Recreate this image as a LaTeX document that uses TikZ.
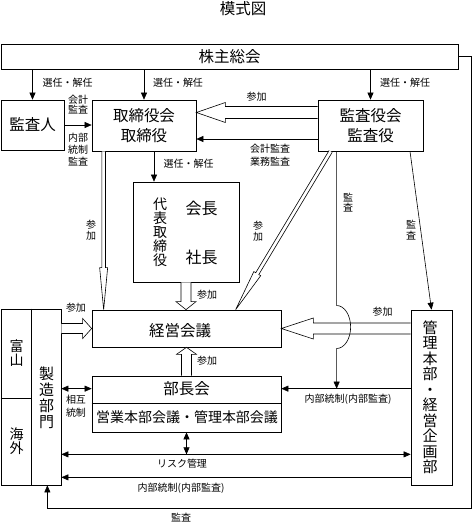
\documentclass[tikz,border=0pt]{standalone}
\usepackage{fontspec}
\setmainfont{Noto Sans CJK JP}
\usetikzlibrary{arrows.meta,calc}

\tikzset{
  box/.style={draw, line width=0.7pt, inner sep=0pt, align=center, font=\fontsize{15.5}{20}\selectfont},
  big/.style={inner sep=0pt, align=center, font=\fontsize{15.5}{20}\selectfont},
  small/.style={inner sep=0pt, align=center, font=\fontsize{10}{12}\selectfont},
  vsmall/.style={inner sep=0pt, align=center, font=\fontsize{10}{10.5}\selectfont},
  arr/.style={line width=0.6pt, -{Triangle[length=7pt,width=6pt]}},
  darr/.style={line width=0.6pt, {Triangle[length=7pt,width=6pt]}-{Triangle[length=7pt,width=6pt]}},
  fatline/.style={line width=0.6pt, fill=white},
}

% hollow arrow: from, to, half shaft, half head, head length
\newcommand{\fatarrow}[5]{%
  \coordinate (fa-s) at (#1);
  \coordinate (fa-e) at (#2);
  \coordinate (fa-n) at ($(fa-e)!#5!(fa-s)$);
  \draw[fatline] ($(fa-s)!#3!90:(fa-e)$) -- ($(fa-n)!#3!-90:(fa-s)$) -- ($(fa-n)!#4!-90:(fa-s)$)
    -- (fa-e) -- ($(fa-n)!#4!90:(fa-s)$) -- ($(fa-n)!#3!90:(fa-s)$) -- ($(fa-s)!#3!-90:(fa-e)$);
}

\begin{document}
\begin{tikzpicture}[x=1pt,y=-1pt]
\useasboundingbox (0,0) rectangle (473,523);

\node[big] (title) at (243,9) {模式図};

% boxes
\node[box, minimum width=457, minimum height=25] (kabunushi) at (229.5,56.5) {株主総会};
\node[box, minimum width=63, minimum height=50] (kansanin) at (32.5,125) {監査人};
\node[box, minimum width=104, minimum height=51] (torishimari) at (144,125.5) {取締役会\\取締役};
\node[box, minimum width=105, minimum height=51] (kansayaku) at (370.5,125.5) {監査役会\\監査役};
\node[box, minimum width=106, minimum height=100] (daihyo) at (186,232) {};
\node[big, font=\fontsize{14}{14}\selectfont] (daihyo-v) at (160,232) {代\\表\\取\\締\\役};
\node[big, font=\fontsize{16}{20}\selectfont] (kaicho) at (201.5,208) {会長};
\node[big, font=\fontsize{16}{20}\selectfont] (shacho) at (201.5,257) {社長};
\node[box, minimum width=189, minimum height=37] (keiei) at (186.5,328.5) {};
\node[big] (keiei-t) at (180,331) {経営会議};
\node[box, minimum width=189, minimum height=56] (buchou) at (186.5,404) {};
\draw[line width=0.7pt] ($(buchou.west)+(0,-1)$) -- ($(buchou.east)+(0,-1)$);
\node[big] (buchou-t) at (186.5,389) {部長会};
\node[big, font=\fontsize{14}{18}\selectfont] (kaigi-t) at (187,417) {営業本部会議・管理本部会議};
\node[box, minimum width=41, minimum height=175] (kanri) at (431.5,397.5) {};
\node[big, font=\fontsize{15}{15.5}\selectfont] (kanri-t) at (430,397.5) {管\\理\\本\\部\\・\\経\\営\\企\\画\\部};
\node[box, minimum width=60, minimum height=176] (seizo) at (31,397) {};
\draw[line width=0.7pt] ($(seizo.north west)+(31,0)$) -- ($(seizo.south west)+(31,0)$);
\draw[line width=0.7pt] ($(seizo.west)+(0,1)$) -- ($(seizo.west)+(31,1)$);
\node[big, font=\fontsize{15}{16}\selectfont] (seizo-t) at (46.5,397.5) {製\\造\\部\\門};
\node[big, font=\fontsize{14}{14}\selectfont] (toyama) at (16.5,353.5) {富\\山};
\node[big, font=\fontsize{14}{14}\selectfont] (kaigai) at (16.5,441) {海\\外};

% hollow arrows (参加)
\fatarrow{$(kansayaku.west)+(0,-13)$}{$(torishimari.east)+(0,-13)$}{6pt}{10pt}{29pt}
\fatarrow{$(torishimari.south west)+(12,0)$}{$(torishimari.south west |- keiei.north)+(12,0)$}{1.8pt}{4pt}{42pt}
\fatarrow{$(kansayaku.south west)+(13,0)$}{$(keiei.north west)+(144,0)$}{1.8pt}{4pt}{42pt}
\fatarrow{daihyo.south}{daihyo.south |- keiei.north}{5pt}{10pt}{8pt}
\fatarrow{buchou.north}{buchou.north |- keiei.south}{5pt}{10pt}{7pt}
\fatarrow{keiei.west -| seizo.east}{keiei.west}{5pt}{10pt}{9pt}
\fatarrow{keiei.east -| kanri.west}{keiei.east}{5.5pt}{10.5pt}{32pt}

% plain arrows
\draw[arr] (kansanin.north |- kabunushi.south) -- (kansanin.north);
\draw[arr] (torishimari.north |- kabunushi.south) -- (torishimari.north);
\draw[arr] (kansayaku.north |- kabunushi.south) -- (kansayaku.north);
\draw[arr] (kansanin.east) -- (kansanin.east -| torishimari.west);
\draw[arr] ($(kansayaku.west)+(0,13.5)$) -- ($(torishimari.east)+(0,13.5)$);
\draw[arr] ($(torishimari.south)+(10,0)$) -- ($(torishimari.south |- daihyo.north)+(10,0)$);
\draw[arr] ($(kansayaku.south)+(39.5,0)$) -- (kanri.north);

% audit line with hop
\coordinate (kansa) at ($(kansayaku.south west)+(19,0)$);
\coordinate (naibu1) at ($(buchou.north east)+(0,13)$);
\coordinate (hop) at ($(kansa |- keiei.east)+(0,-23)$);
\draw[arr] (kansa) -- (hop) arc[start angle=90, end angle=-90, x radius=14pt, y radius=21.5pt] -- (kansa |- naibu1);

\draw[arr] (naibu1 -| kanri.west) -- (naibu1);
\draw[darr] (naibu1 -| seizo.east) -- (naibu1 -| buchou.west);
\coordinate (risk) at ($(buchou.south)+(0,22)$);
\draw[darr] (buchou.south) -- (risk);
\draw[darr] (risk -| seizo.east) -- (risk -| kanri.west);
\coordinate (naibu2) at ($(risk)+(0,23)$);
\draw[arr] (naibu2 -| kanri.west) -- (naibu2 -| seizo.east);
\coordinate (frame) at ($(kabunushi.east)+(13,0)$);
\coordinate (bottom) at ($(seizo.south east)+(-14,23)$);
\draw[arr] (kabunushi.east) -- (frame) -- (frame |- bottom) -- (bottom) -- (bottom |- seizo.south);

% labels
\node[small] (l-sen1) at (67.5,83) {選任・解任};
\node[small] (l-sen2) at (178,83) {選任・解任};
\node[small] (l-sen3) at (405,83) {選任・解任};
\node[vsmall] (l-kaikei) at (78,104.5) {会計\\監査};
\node[small] (l-naibu) at (78,150) {内部\\統制\\監査};
\node[small] (l-san1) at (256.5,97) {参加};
\node[small, font=\fontsize{10}{13}\selectfont] (l-gyomu) at (270,155.5) {会計監査\\業務監査};
\node[small] (l-sen4) at (188.5,164) {選任・解任};
\node[vsmall] (l-san2) at (91,230) {参\\加};
\node[vsmall] (l-san3) at (258,231) {参\\加};
\node[vsmall] (l-kan1) at (348,202.5) {監\\査};
\node[vsmall] (l-kan2) at (411,230) {監\\査};
\node[small] (l-san4) at (207,295) {参加};
\node[small] (l-san5) at (207,361) {参加};
\node[small] (l-san6) at (76,308) {参加};
\node[small] (l-san7) at (382.5,312) {参加};
\node[small, font=\fontsize{10}{13}\selectfont] (l-sogo) at (76,406.5) {相互\\統制};
\node[small] (l-naibu1) at (348,399) {内部統制(内部監査)};
\node[small] (l-risk) at (182,464) {リスク管理};
\node[small] (l-naibu2) at (181,488) {内部統制(内部監査)};
\node[small] (l-kan3) at (181,518) {監査};
\end{tikzpicture}
\end{document}
